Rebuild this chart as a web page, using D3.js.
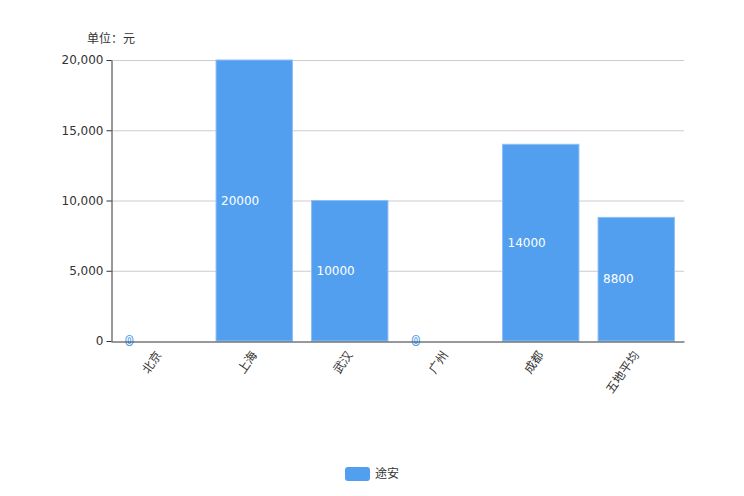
<!DOCTYPE html>
<html>
<head>
<meta charset="utf-8">
<script src="https://cdn.jsdelivr.net/npm/d3@7"></script>
<style>
  body { margin: 0; background: #fff; }
  text { font-family: "Noto Sans CJK SC", "DejaVu Sans", sans-serif; }
</style>
</head>
<body>
<div id="chart"></div>
<script>
const categories = ["北京", "上海", "武汉", "广州", "成都", "五地平均"];
const values = [0, 20000, 10000, 0, 14000, 8800];
const yTicks = [0, 5000, 10000, 15000, 20000];
const seriesName = "途安";
const unitLabel = "单位：元";

const width = 744, height = 496;
const margin = { top: 60, right: 60, bottom: 155, left: 111 };
const barColor = "#529ff0";

const svg = d3.select("#chart").append("svg")
    .attr("width", width)
    .attr("height", height);

const x = d3.scaleBand()
    .domain(categories)
    .range([margin.left, width - margin.right])
    .paddingInner(0.2)
    .paddingOuter(0.1);

const y = d3.scaleLinear()
    .domain([0, 20000])
    .range([height - margin.bottom, margin.top]);

// Gridlines
svg.append("g")
    .selectAll("line")
    .data(yTicks.filter(d => d > 0))
    .enter().append("line")
    .attr("x1", margin.left)
    .attr("x2", width - margin.right)
    .attr("y1", d => y(d) + 0.5)
    .attr("y2", d => y(d) + 0.5)
    .attr("stroke", "#cccccc")
    .attr("stroke-width", 1);

// Bars
svg.append("g")
    .selectAll("rect")
    .data(values)
    .enter().append("rect")
    .attr("x", (d, i) => x(categories[i]))
    .attr("y", d => y(d))
    .attr("width", x.bandwidth())
    .attr("height", d => y(0) - y(d))
    .attr("fill", barColor)
    .attr("stroke", "#8ec0f5")
    .attr("stroke-width", d => d > 0 ? 1 : 0);

// Bar labels
svg.append("g")
    .selectAll("text")
    .data(values)
    .enter().append("text")
    .attr("x", (d, i) => x(categories[i]) + 5)
    .attr("y", d => (y(d) + y(0)) / 2)
    .attr("dy", "0.35em")
    .attr("font-size", 12)
    .style("font-family", "'DejaVu Sans', sans-serif")
    .attr("fill", "#fff")
    .attr("stroke", d => d > 0 ? "none" : barColor)
    .attr("stroke-width", 2)
    .attr("paint-order", "stroke")
    .text(d => d);

// Y axis
const yAxis = d3.axisLeft(y)
    .tickValues(yTicks)
    .tickSize(5)
    .tickSizeOuter(0)
    .tickFormat(d3.format(","));

svg.append("g")
    .attr("transform", `translate(${margin.left + 0.5},0)`)
    .call(yAxis)
    .call(g => g.select(".domain").attr("stroke", "#333"))
    .call(g => g.selectAll(".tick line").attr("stroke", "#333"))
    .call(g => g.selectAll(".tick text")
        .attr("font-size", 12)
        .attr("fill", "#333")
        .attr("x", -8)
        .style("font-family", "'DejaVu Sans', sans-serif"));

// X axis
const xAxis = d3.axisBottom(x).tickSize(0).tickSizeOuter(0);

svg.append("g")
    .attr("transform", `translate(0,${y(0) + 0.5})`)
    .call(xAxis)
    .call(g => g.select(".domain").attr("stroke", "#333"))
    .call(g => g.selectAll(".tick text")
        .attr("font-size", 12)
        .attr("fill", "#333")
        .attr("text-anchor", "end")
        .attr("dy", "0.35em")
        .attr("transform", "translate(0,11) rotate(-55)")
        .attr("y", 0)
        .attr("x", 0));

// Unit label
svg.append("text")
    .attr("x", 111)
    .attr("y", 39)
    .attr("dy", "0.35em")
    .attr("text-anchor", "middle")
    .attr("font-size", 12)
    .attr("fill", "#333")
    .text(unitLabel);

// Legend
const legend = svg.append("g").attr("transform", "translate(345,467)");
legend.append("rect")
    .attr("width", 25)
    .attr("height", 14)
    .attr("rx", 3)
    .attr("fill", barColor);
legend.append("text")
    .attr("x", 30)
    .attr("y", 7)
    .attr("dy", "0.35em")
    .attr("font-size", 12)
    .attr("fill", "#333")
    .text(seriesName);
</script>
</body>
</html>
